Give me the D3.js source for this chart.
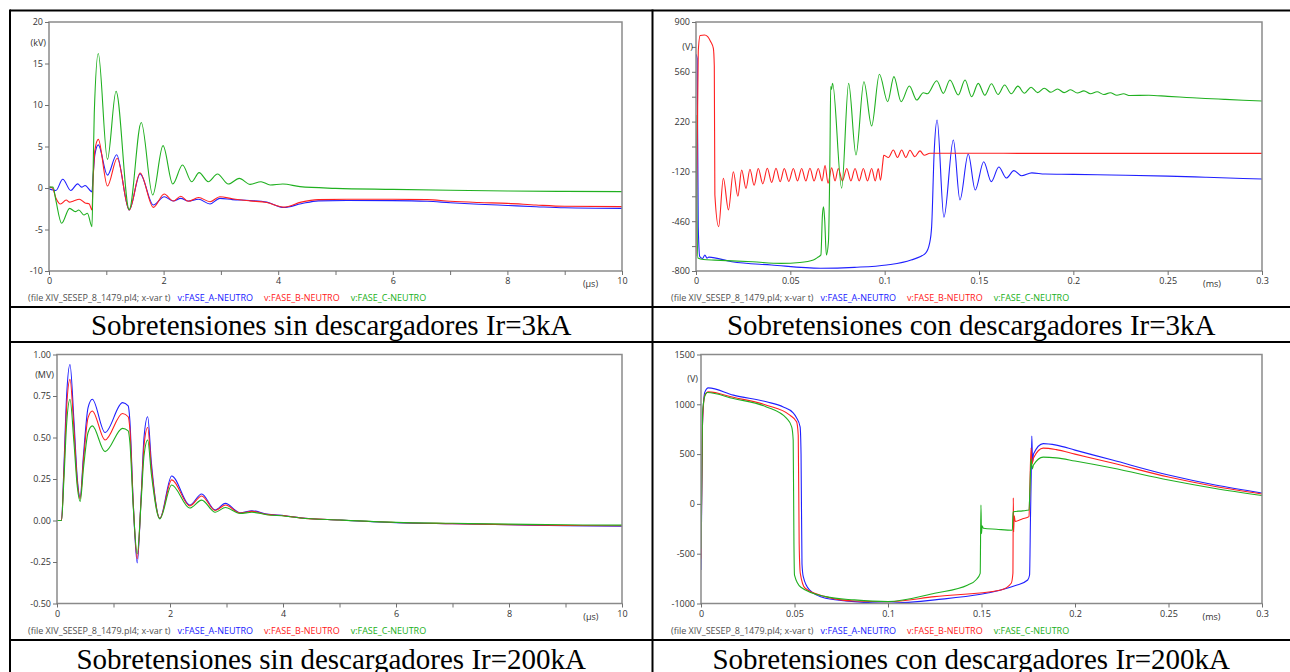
<!DOCTYPE html>
<html>
<head>
<meta charset="utf-8">
<script src="https://cdn.jsdelivr.net/npm/d3@7"></script>
<style>
  body { margin: 0; background: #fff; }
  svg { display: block; }
  .tick text, .lbl { font-family: "Open Sans", sans-serif; }
</style>
</head>
<body>
<svg id="fig" width="1290" height="672"></svg>
<script>
// ---- chart 1: sin descargadores Ir=3kA  (t in µs, v in kV)
const sin3A = [[0,-0.1],[0.07,-0.25],[0.12,-0.3],[0.24,1.05],[0.38,-0.3],[0.5,0.5],[0.57,0.1],[0.63,0.3],[0.75,-0.45],[0.77,1.5],[0.8,4.0],[0.86,5.2],[1.02,1.55],[1.18,4.0],[1.4,-2.65],[1.59,1.7],[1.82,-2.05],[2.01,-1.05],[2.17,-1.57],[2.3,-1.25],[2.43,-1.57],[2.61,-1.35],[2.81,-1.93],[2.98,-1.25],[3.2,-1.4],[3.5,-1.5],[3.8,-1.7],[4.1,-2.35],[4.4,-1.9],[4.7,-1.55],[5.2,-1.5],[6,-1.52],[6.6,-1.6],[7.0,-1.77],[7.5,-1.95],[8.0,-2.1],[8.5,-2.25],[9.0,-2.38],[10,-2.45]];
const sin3B = [[0,0.1],[0.06,0],[0.12,-1.2],[0.2,-1.93],[0.3,-1.45],[0.36,-1.7],[0.42,-1.6],[0.53,-1.35],[0.63,-1.8],[0.7,-1.9],[0.75,-2.65],[0.77,1.0],[0.8,4.5],[0.86,5.86],[1.02,0.24],[1.19,3.58],[1.4,-2.65],[1.59,1.8],[1.82,-2.33],[2.01,-0.72],[2.17,-1.57],[2.3,-1.0],[2.43,-1.6],[2.61,-1.15],[2.81,-1.65],[2.98,-1.05],[3.2,-1.3],[3.5,-1.55],[3.8,-1.75],[4.1,-2.3],[4.4,-1.7],[4.7,-1.4],[5.2,-1.35],[6,-1.35],[6.6,-1.4],[7.0,-1.6],[7.5,-1.75],[8.0,-1.85],[8.5,-2.05],[9.0,-2.2],[10,-2.25]];
const sin3C = [[0,0.1],[0.07,0.1],[0.12,-1.5],[0.22,-4.25],[0.36,-2.45],[0.46,-2.85],[0.52,-2.65],[0.61,-3.25],[0.67,-3.05],[0.75,-4.66],[0.77,2.0],[0.79,9.0],[0.86,16.2],[1.02,3.45],[1.17,11.65],[1.4,-2.6],[1.61,7.9],[1.81,-0.84],[1.99,5.1],[2.16,0.48],[2.33,2.77],[2.49,0.76],[2.62,1.85],[2.78,0.76],[2.94,1.69],[3.13,0.48],[3.32,1.16],[3.51,0.44],[3.7,0.76],[3.86,0.36],[4.08,0.48],[4.38,0.16],[5.0,-0.04],[6.0,-0.16],[7.0,-0.27],[8.0,-0.36],[9.0,-0.41],[10,-0.44]];

// ---- chart 2: con descargadores Ir=3kA  (t in ms, v in V)
const con3A = [[0,680],[0.0006,650],[0.0012,-500],[0.002,-702],[0.0035,-715],[0.0047,-691],[0.0058,-712],[0.0068,-705],[0.019,-737],[0.04,-759],[0.066,-781],[0.084,-775],[0.101,-759],[0.114,-725],[0.1216,-679],[0.1238,-611],[0.1249,-497],[0.1262,0],[0.1278,231],[0.1314,-433],[0.1364,94],[0.1399,-315],[0.1443,-1],[0.148,-247],[0.1525,-54],[0.1565,-190],[0.1605,-90],[0.1645,-165],[0.1685,-115],[0.1725,-150],[0.178,-130],[0.185,-138],[0.2,-140],[0.22,-145],[0.25,-152],[0.27,-160],[0.29,-168],[0.3,-172]];
const con3B = [[0,-700],[0.0012,700],[0.0022,808],[0.0045,811],[0.0062,800],[0.0078,765],[0.0092,720],[0.0097,600],[0.0100,-280],[0.0120,-497],[0.0145,-167],[0.0172,-383],[0.0198,-122],[0.0222,-290],[0.0242,-110],[0.0265,-236],[0.0286,-105],[0.0308,-215],[0.0330,-100],[0.0354,-205],[0.0378,-98],[0.0401,-195],[0.0424,-98],[0.0446,-190],[0.0468,-100],[0.0492,-188],[0.0516,-100],[0.0538,-185],[0.0560,-100],[0.0582,-185],[0.0604,-98],[0.0626,-185],[0.0648,-100],[0.0668,-185],[0.0684,-80],[0.0700,-200],[0.0719,-95],[0.0737,-185],[0.0754,-100],[0.0776,-185],[0.0799,-100],[0.0821,-185],[0.0843,-100],[0.0865,-185],[0.0887,-100],[0.0909,-185],[0.0931,-100],[0.0950,-185],[0.0966,-100],[0.0978,-180],[0.0990,-60],[0.0995,-10],[0.1020,-25],[0.1046,26],[0.1068,-25],[0.1090,26],[0.1112,-25],[0.1134,24],[0.1160,-20],[0.1187,20],[0.1210,-10],[0.1240,4],[0.2,3],[0.3,3]];
const con3C = [[0,265],[0.0004,-300],[0.0010,-711],[0.004,-722],[0.01,-726],[0.03,-737],[0.045,-748],[0.055,-742],[0.0622,-725],[0.0643,-709],[0.0662,-690],[0.0670,-420],[0.0676,-361],[0.0682,-450],[0.0691,-691],[0.0702,-600],[0.0710,0],[0.0714,460],[0.0718,440],[0.0724,481],[0.0772,-235],[0.0809,481],[0.0848,-8],[0.089,492],[0.0931,190],[0.0972,543],[0.1016,356],[0.1049,527],[0.1087,356],[0.1131,463],[0.117,367],[0.1205,417],[0.1226,410],[0.1276,499],[0.1311,413],[0.1346,504],[0.139,402],[0.1426,504],[0.1461,390],[0.1496,481],[0.1531,400],[0.1566,478],[0.1601,405],[0.1636,470],[0.1671,410],[0.1706,462],[0.1741,414],[0.1776,455],[0.1811,418],[0.1846,448],[0.1881,420],[0.1916,443],[0.1951,418],[0.1986,437],[0.2021,415],[0.2056,430],[0.2091,410],[0.2126,424],[0.2161,405],[0.2196,417],[0.2231,400],[0.2266,410],[0.23,398],[0.24,400],[0.25,392],[0.26,385],[0.27,378],[0.28,372],[0.29,366],[0.3,361]];

// ---- chart 3: sin descargadores Ir=200kA  (t in µs, v in MV)
const sin200A = [[0,0],[0.08,0],[0.12,0.3],[0.17,0.75],[0.23,0.94],[0.3,0.6],[0.36,0.25],[0.41,0.14],[0.47,0.4],[0.55,0.68],[0.625,0.73],[0.85,0.53],[1.16,0.71],[1.26,0.69],[1.29,0.6],[1.35,0.1],[1.42,-0.255],[1.49,0.15],[1.54,0.5],[1.605,0.625],[1.67,0.35],[1.82,0.013],[2.03,0.268],[2.35,0.093],[2.56,0.16],[2.8,0.063],[2.98,0.103],[3.24,0.047],[3.45,0.059],[3.71,0.039],[4.04,0.029],[4.3,0.017],[5,0.003],[6,-0.013],[7,-0.02],[8,-0.026],[9,-0.032],[10,-0.035]];
const sin200B = [[0,0],[0.08,0],[0.12,0.27],[0.17,0.68],[0.23,0.85],[0.3,0.55],[0.36,0.23],[0.41,0.13],[0.47,0.37],[0.55,0.62],[0.625,0.66],[0.85,0.485],[1.16,0.645],[1.26,0.625],[1.29,0.55],[1.35,0.1],[1.42,-0.23],[1.49,0.14],[1.54,0.45],[1.605,0.56],[1.67,0.32],[1.82,0.012],[2.03,0.245],[2.35,0.088],[2.56,0.148],[2.8,0.06],[2.98,0.093],[3.24,0.045],[3.45,0.055],[3.71,0.037],[4.04,0.028],[4.3,0.016],[5,0.003],[6,-0.012],[7,-0.019],[8,-0.025],[9,-0.03],[10,-0.032]];
const sin200C = [[0,0],[0.08,0],[0.12,0.23],[0.17,0.58],[0.23,0.73],[0.3,0.47],[0.36,0.2],[0.41,0.115],[0.47,0.32],[0.55,0.53],[0.625,0.57],[0.85,0.415],[1.16,0.555],[1.26,0.54],[1.29,0.47],[1.35,0.08],[1.42,-0.2],[1.49,0.12],[1.54,0.39],[1.605,0.485],[1.67,0.28],[1.82,0.01],[2.03,0.214],[2.35,0.075],[2.56,0.123],[2.8,0.05],[2.98,0.078],[3.24,0.042],[3.45,0.05],[3.71,0.035],[4.04,0.026],[4.3,0.015],[5,0.003],[6,-0.011],[7,-0.017],[8,-0.022],[9,-0.026],[10,-0.028]];

// ---- chart 4: con descargadores Ir=200kA  (t in ms, v in V)
const con200A = [[0,-663],[0.0008,800],[0.002,1120],[0.0039,1165],[0.0173,1092],[0.035,1025],[0.044,974],[0.049,920],[0.051,868],[0.053,774],[0.0535,500],[0.0540,-600],[0.0547,-731],[0.058,-864],[0.0666,-948],[0.082,-981],[0.1,-997],[0.125,-964],[0.169,-814],[0.1747,-764],[0.1757,-714],[0.1762,-128],[0.1766,300],[0.1769,680],[0.1773,420],[0.1778,500],[0.183,605],[0.19,590],[0.2,540],[0.22,440],[0.25,290],[0.275,190],[0.3,110]];
const con200B = [[0,-550],[0.0008,800],[0.002,1090],[0.0039,1125],[0.0173,1070],[0.035,991],[0.0475,891],[0.0511,824],[0.052,690],[0.0525,-400],[0.0531,-697],[0.0557,-847],[0.0666,-931],[0.082,-975],[0.1,-981],[0.125,-931],[0.1604,-864],[0.1659,-797],[0.1668,-697],[0.1670,60],[0.1672,-280],[0.1675,-120],[0.168,-175],[0.172,-150],[0.1754,-128],[0.1759,200],[0.1765,560],[0.1770,400],[0.1778,460],[0.183,560],[0.19,545],[0.2,500],[0.22,410],[0.25,270],[0.275,175],[0.3,100]];
const con200C = [[0,-450],[0.0008,900],[0.002,1080],[0.0034,1118],[0.0173,1058],[0.035,974],[0.0458,858],[0.0485,774],[0.0493,640],[0.0497,-400],[0.050,-715],[0.0534,-837],[0.0666,-931],[0.082,-964],[0.1,-981],[0.125,-897],[0.1427,-814],[0.147,-764],[0.1493,-697],[0.1497,-12],[0.1500,-300],[0.1503,-220],[0.151,-245],[0.158,-255],[0.1665,-265],[0.1669,-79],[0.172,-70],[0.1754,-62],[0.1759,150],[0.1765,450],[0.1772,350],[0.1778,390],[0.183,470],[0.19,462],[0.2,430],[0.22,360],[0.25,240],[0.275,155],[0.3,85]];

// ---- axes, legend and captions
const yTicks1 = [-10, -5, 0, 5, 10, 15, 20];
const yTicks2 = [-800, -630, -460, -290, -120, 50, 220, 390, 560, 730, 900];
const yLabels2 = [-800, -460, -120, 220, 560, 900];
const yTicks3 = [-0.5, -0.25, 0, 0.25, 0.5, 0.75, 1.0];
const yTicks4 = [-1000, -500, 0, 500, 1000, 1500];
const usTicks = [0, 1, 2, 3, 4, 5, 6, 7, 8, 9, 10];
const usLabels = [0, 2, 4, 6, 8, 10];
const msTicks = [0, 0.05, 0.1, 0.15, 0.2, 0.25, 0.3];
const legendFile = '(file XIV_SESEP_8_1479.pl4; x-var t)';
const legendNames = ['v:FASE_A-NEUTRO', 'v:FASE_B-NEUTRO', 'v:FASE_C-NEUTRO'];
const captions = [
  'Sobretensiones sin descargadores Ir=3kA',
  'Sobretensiones con descargadores Ir=3kA',
  'Sobretensiones sin descargadores Ir=200kA',
  'Sobretensiones con descargadores Ir=200kA'
];

const colors = ['#2020ff', '#ff2020', '#20b020'];
const svg = d3.select('#fig');
const fmt = (digits) => d => (digits ? d.toFixed(digits) : String(+d.toFixed(3))).replace('\u2212', '-');
const fs = 9;

const panels = [
  { left: 49, right: 622, top: 22, bottom: 271, xDomain: [0, 10], yDomain: [-10, 20],
    series: [sin3A, sin3B, sin3C], xTicks: usTicks, xLabels: usLabels, xUnit: '(\u00b5s)', xUnitAt: 9.45,
    yTicks: yTicks1, yLabels: yTicks1, yDigits: 0, yUnit: '(kV)', yUnitAt: 17.5, legendX: 28, legendY: 301, cap: 0 },
  { left: 696, right: 1262, top: 22, bottom: 271, xDomain: [0, 0.3], yDomain: [-800, 900],
    series: [con3A, con3B, con3C], xTicks: msTicks, xLabels: msTicks, xUnit: '(ms)', xUnitAt: 0.2735,
    yTicks: yTicks2, yLabels: yLabels2, yDigits: 0, yUnit: '(V)', yUnitAt: 730, legendX: 671, legendY: 301, cap: 1 },
  { left: 57, right: 622, top: 354.5, bottom: 603.5, xDomain: [0, 10], yDomain: [-0.5, 1.0],
    series: [sin200A, sin200B, sin200C], xTicks: usTicks, xLabels: usLabels, xUnit: '(\u00b5s)', xUnitAt: 9.45,
    yTicks: yTicks3, yLabels: yTicks3, yDigits: 2, yUnit: '(MV)', yUnitAt: 0.875, legendX: 28, legendY: 634, cap: 2 },
  { left: 701, right: 1262, top: 354.5, bottom: 603.5, xDomain: [0, 0.3], yDomain: [-1000, 1500],
    series: [con200A, con200B, con200C], xTicks: msTicks, xLabels: msTicks, xUnit: '(ms)', xUnitAt: 0.273,
    yTicks: yTicks4, yLabels: yTicks4, yDigits: 0, yUnit: '(V)', yUnitAt: 1250, legendX: 671, legendY: 634, cap: 3 }
];

panels.forEach((p, pi) => {
  const x = d3.scaleLinear().domain(p.xDomain).range([p.left, p.right]);
  const y = d3.scaleLinear().domain(p.yDomain).range([p.bottom, p.top]);
  const g = svg.append('g');

  g.append('clipPath').attr('id', 'clip' + pi)
    .append('rect').attr('x', p.left).attr('y', p.top - 1)
    .attr('width', p.right - p.left).attr('height', p.bottom - p.top + 2);

  // curves
  const line = d3.line().x(d => x(d[0])).y(d => y(d[1])).curve(d3.curveMonotoneX);
  p.series.forEach((s, i) => {
    g.append('path').datum(s)
      .attr('clip-path', `url(#clip${pi})`)
      .attr('d', line)
      .attr('fill', 'none')
      .attr('stroke', colors[i])
      .attr('stroke-width', 1.1);
  });

  // frame
  g.append('rect')
    .attr('x', p.left).attr('y', p.top)
    .attr('width', p.right - p.left).attr('height', p.bottom - p.top)
    .attr('fill', 'none').attr('stroke', '#8a8a8a').attr('stroke-width', 1.5);

  // y axis
  const yAxis = d3.axisLeft(y).tickValues(p.yTicks).tickSize(4).tickPadding(2)
    .tickFormat(d => p.yLabels.includes(d) ? fmt(p.yDigits)(d) : '');
  const ya = g.append('g').attr('transform', `translate(${p.left},0)`).call(yAxis);
  ya.select('.domain').remove();
  ya.selectAll('line').attr('stroke', '#707070');
  ya.selectAll('text').attr('font-size', fs).attr('fill', '#333');
  g.append('text').attr('class', 'lbl')
    .attr('x', p.left - 3).attr('y', y(p.yUnitAt)).attr('dy', '0.32em')
    .attr('text-anchor', 'end').attr('font-size', fs).attr('fill', '#333')
    .text(p.yUnit);

  // x axis
  const xAxis = d3.axisBottom(x).tickValues(p.xTicks).tickSize(4).tickPadding(3)
    .tickFormat(d => p.xLabels.includes(d) ? fmt(0)(d) : '');
  const xa = g.append('g').attr('transform', `translate(0,${p.bottom})`).call(xAxis);
  xa.select('.domain').remove();
  xa.selectAll('line').attr('stroke', '#707070');
  xa.selectAll('text').attr('font-size', fs).attr('fill', '#333');
  g.append('text').attr('class', 'lbl')
    .attr('x', x(p.xUnitAt)).attr('y', p.bottom + 16)
    .attr('text-anchor', 'middle').attr('font-size', fs).attr('fill', '#333')
    .text(p.xUnit);

  // legend
  let lx = p.legendX;
  const t0 = g.append('text').attr('class', 'lbl')
    .attr('x', lx).attr('y', p.legendY).attr('font-size', fs).attr('fill', '#505050')
    .text(legendFile);
  lx += t0.node().getComputedTextLength() + 7;
  legendNames.forEach((n, i) => {
    const t = g.append('text').attr('class', 'lbl')
      .attr('x', lx).attr('y', p.legendY).attr('font-size', fs).attr('fill', colors[i])
      .text(n);
    lx += t.node().getComputedTextLength() + 11;
  });

  // caption
  const cellL = pi % 2 === 0 ? 10 : 652.5;
  const cellR = pi % 2 === 0 ? 652.5 : 1290;
  svg.append('text')
    .attr('x', (cellL + cellR) / 2).attr('y', pi < 2 ? 335 : 669)
    .attr('text-anchor', 'middle')
    .attr('font-family', '"Liberation Serif", "Times New Roman", serif')
    .attr('font-size', 29).attr('fill', '#000')
    .text(captions[p.cap]);
});

// table grid
const grid = svg.append('g').attr('stroke', '#000').attr('stroke-width', 2);
[[10, 10.5, 1291, 10.5], [10, 307, 1291, 307], [10, 342, 1291, 342], [10, 640, 1291, 640],
 [10, 9.5, 10, 673], [652.5, 9.5, 652.5, 673]].forEach(l => {
  grid.append('line').attr('x1', l[0]).attr('y1', l[1]).attr('x2', l[2]).attr('y2', l[3]);
});
</script>
</body>
</html>
